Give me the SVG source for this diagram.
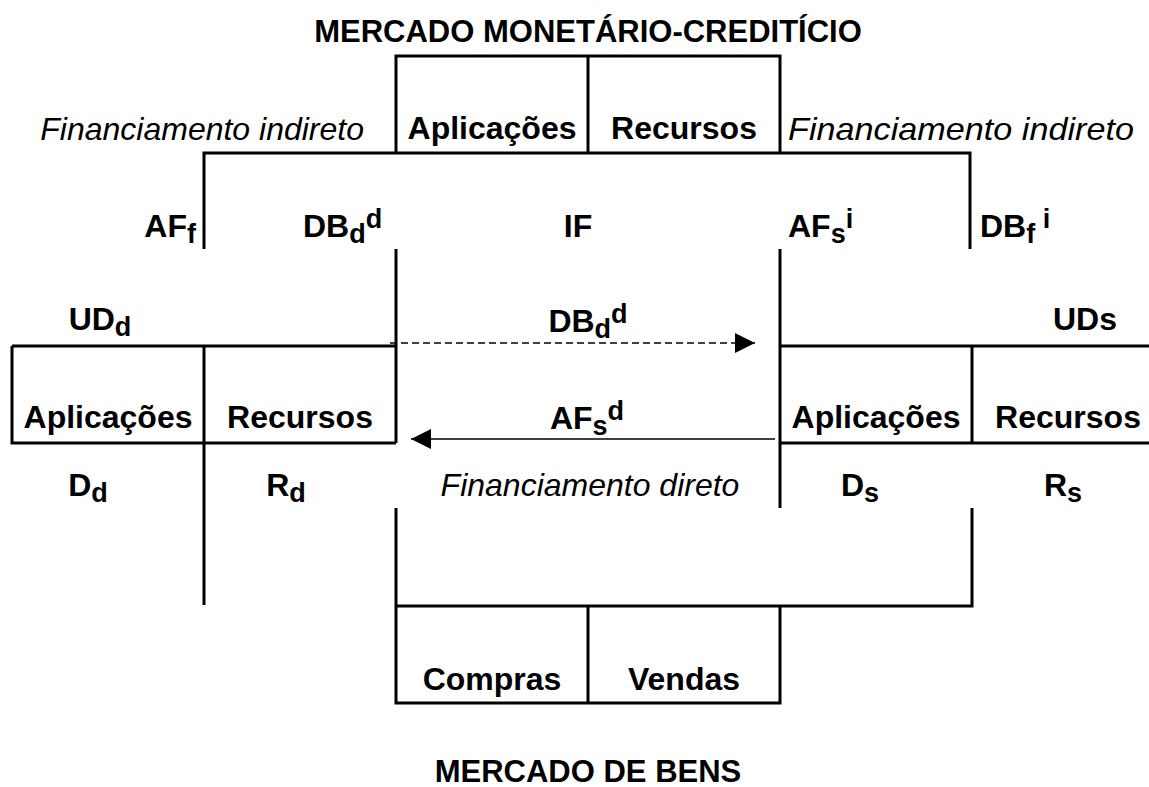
<svg xmlns="http://www.w3.org/2000/svg" width="1149" height="787" viewBox="0 0 1149 787">
<style>
text{font-family:"Liberation Sans",Arial,sans-serif;fill:#000}
.t{font-weight:bold;font-size:31px}
.b{font-weight:bold;font-size:32px}
.i{font-style:italic;font-size:32px}
.s{font-size:27px}
.ln{stroke:#000;stroke-width:3;fill:none}
.ar{stroke:#000;stroke-width:1.5;fill:none}
</style>
<defs>
<marker id="ah" viewBox="0 0 20 20" refX="20" refY="10" markerWidth="20" markerHeight="20" markerUnits="userSpaceOnUse" orient="auto">
<path d="M0,0 L20,10 L0,20 Z" fill="#000"/>
</marker>
</defs>
<rect width="1149" height="787" fill="#fff"/>
<g id="titles">
<text class="t" x="588" y="42" text-anchor="middle">MERCADO MONETÁRIO-CREDITÍCIO</text>
<text class="t" x="588" y="782" text-anchor="middle">MERCADO DE BENS</text>
</g>
<g id="if-account">
<path class="ln" d="M396,153 V56 H780 V153 M588,56 V153"/>
<text class="b" x="492" y="139" text-anchor="middle">Aplicações</text>
<text class="b" x="684" y="139" text-anchor="middle">Recursos</text>
<path class="ln" d="M204,249 V153 H970 V249"/>
<path class="ln" d="M396,249 V443 M780,249 V508"/>
<text class="b" x="303" y="237">DB<tspan class="s" dy="6">d</tspan><tspan class="s" dy="-15">d</tspan></text>
<text class="b" x="578" y="237" text-anchor="middle">IF</text>
<text class="b" x="788" y="237">AF<tspan class="s" dy="6">s</tspan><tspan class="s" dy="-15">i</tspan></text>
</g>
<g id="fin-indireto">
<text class="i" x="364" y="140" text-anchor="end">Financiamento indireto</text>
<text class="i" x="788" y="140" textLength="346" lengthAdjust="spacingAndGlyphs">Financiamento indireto</text>
<text class="b" x="196" y="237" text-anchor="end">AF<tspan class="s" dy="6">f</tspan></text>
<text class="b" x="980" y="237">DB<tspan class="s" dy="6">f</tspan><tspan class="s" dy="-15"> i</tspan></text>
</g>
<g id="ud-deficit">
<text class="b" x="100" y="330" text-anchor="middle">UD<tspan class="s" dy="6">d</tspan></text>
<path class="ln" d="M12,346 H396 M12,346 V443 H396 M204,346 V443 M204,443 V605"/>
<text class="b" x="108" y="428" text-anchor="middle">Aplicações</text>
<text class="b" x="300" y="428" text-anchor="middle">Recursos</text>
<text class="b" x="88" y="496" text-anchor="middle">D<tspan class="s" dy="6">d</tspan></text>
<text class="b" x="286" y="496" text-anchor="middle">R<tspan class="s" dy="6">d</tspan></text>
</g>
<g id="ud-superavit">
<text class="b" x="1085" y="330" text-anchor="middle">UDs</text>
<path class="ln" d="M780,346 H1149 M780,443 H1149 M972,346 V443"/>
<text class="b" x="876" y="428" text-anchor="middle">Aplicações</text>
<text class="b" x="1068" y="428" text-anchor="middle">Recursos</text>
<text class="b" x="860" y="496" text-anchor="middle">D<tspan class="s" dy="6">s</tspan></text>
<text class="b" x="1063" y="496" text-anchor="middle">R<tspan class="s" dy="6">s</tspan></text>
</g>
<g id="goods-market">
<path class="ln" d="M396,508 V703 H780 V606 M396,606 H972 V508 M588,606 V703"/>
<text class="b" x="492" y="690" text-anchor="middle">Compras</text>
<text class="b" x="684" y="690" text-anchor="middle">Vendas</text>
</g>
<g id="connectors">
<line class="ar" x1="390" y1="343" x2="755" y2="343" stroke-dasharray="7,4" marker-end="url(#ah)"/>
<line class="ar" x1="775" y1="439" x2="411" y2="439" marker-end="url(#ah)"/>
<text class="b" x="588" y="332" text-anchor="middle">DB<tspan class="s" dy="6">d</tspan><tspan class="s" dy="-15">d</tspan></text>
<text class="b" x="587" y="429" text-anchor="middle">AF<tspan class="s" dy="6">s</tspan><tspan class="s" dy="-15">d</tspan></text>
<text class="i" x="590" y="496" text-anchor="middle">Financiamento direto</text>
</g>
</svg>
